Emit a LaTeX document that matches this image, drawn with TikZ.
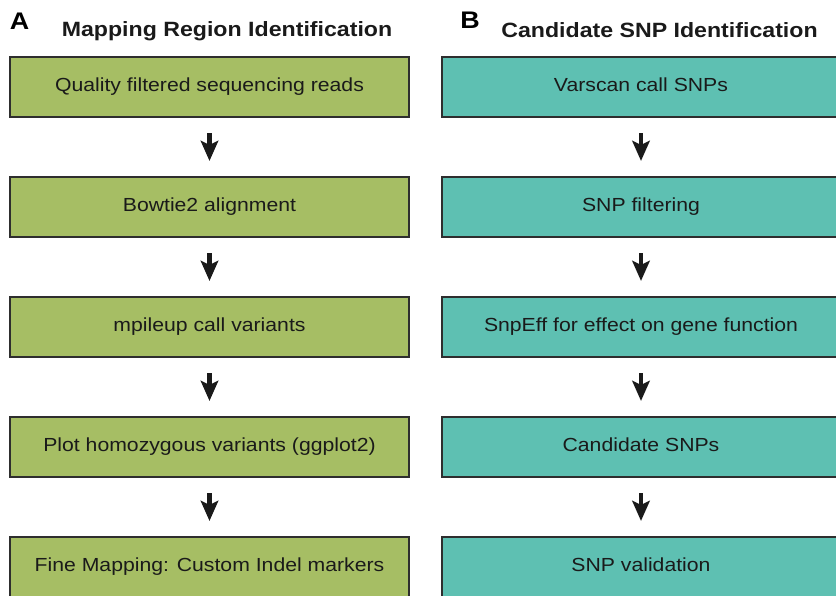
\documentclass[tikz,border=0pt]{standalone}
\usepackage{fontspec}
\setmainfont[FakeStretch=1.12]{Liberation Sans}
\usetikzlibrary{arrows.meta}
\definecolor{boxgreen}{HTML}{A6BE64}
\definecolor{boxteal}{HTML}{5EC0B2}
\definecolor{edgegray}{HTML}{2E2E2E}
\definecolor{inkblack}{HTML}{1A1A1A}
\tikzset{
  stepbox/.style={draw=edgegray, line width=1.6pt, minimum width=299pt, minimum height=45pt,
    inner sep=0pt, text height=10.5pt, text depth=3.5pt, text=inkblack,
    font=\fontsize{14.2pt}{16pt}\selectfont},
  greenbox/.style={stepbox, fill=boxgreen},
  tealbox/.style={stepbox, fill=boxteal},
  flowarrow/.style={draw=inkblack, line width=3.2pt,
    -{Stealth[length=15pt, width=13pt, inset=3pt]}, shorten <=11.25pt, shorten >=11.25pt},
  headtext/.style={anchor=base, inner sep=0pt, text=inkblack, font=\fontsize{15.5pt}{18pt}\selectfont\bfseries},
  paneltag/.style={anchor=base west, inner sep=0pt, text=black, font=\fontsize{18pt}{20pt}\selectfont\bfseries}
}
\begin{document}
\begin{tikzpicture}[x=0.75pt,y=-0.75pt]
\useasboundingbox (0,0) rectangle (836,596);
\clip (0,0) rectangle (836,596);
\node[paneltag] (tagA) at (9.5,29.3) {A};
\node[paneltag] (tagB) at (460,28.5) {B};
\node[headtext] (headA) at (227,36.7) {Mapping Region Identification};
\node[headtext] (headB) at (659.5,37) {Candidate SNP Identification};

\node[greenbox] (a1) at (209.5,87) {Quality filtered sequencing reads};
\node[greenbox] (a2) at (209.5,207) {Bowtie2 alignment};
\node[greenbox] (a3) at (209.5,327) {mpileup call variants};
\node[greenbox] (a4) at (209.5,447) {Plot homozygous variants (ggplot2)};
\node[greenbox] (a5) at (209.5,567) {Fine Mapping: Custom Indel markers};

\node[tealbox] (b1) at (641,87) {Varscan call SNPs};
\node[tealbox] (b2) at (641,207) {SNP filtering};
\node[tealbox] (b3) at (641,327) {SnpEff for effect on gene function};
\node[tealbox] (b4) at (641,447) {Candidate SNPs};
\node[tealbox] (b5) at (641,567) {SNP validation};

\draw[flowarrow] (a1.south) -- (a2.north);
\draw[flowarrow] (a2.south) -- (a3.north);
\draw[flowarrow] (a3.south) -- (a4.north);
\draw[flowarrow] (a4.south) -- (a5.north);
\draw[flowarrow] (b1.south) -- (b2.north);
\draw[flowarrow] (b2.south) -- (b3.north);
\draw[flowarrow] (b3.south) -- (b4.north);
\draw[flowarrow] (b4.south) -- (b5.north);
\end{tikzpicture}
\end{document}
